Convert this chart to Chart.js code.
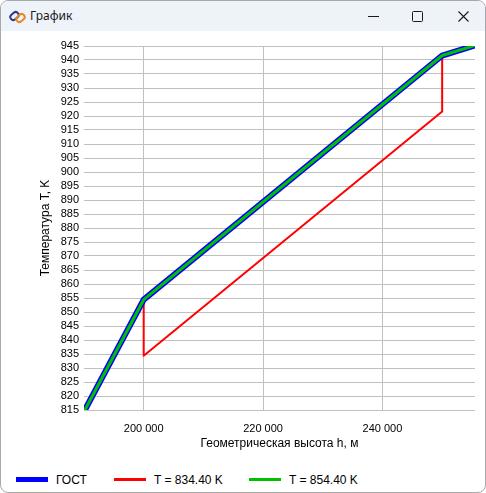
<!DOCTYPE html>
<html>
<head>
<meta charset="utf-8">
<script src="https://cdn.jsdelivr.net/npm/chart.js@4.4.1/dist/chart.umd.min.js"></script>
<style>
  html, body { margin: 0; padding: 0; width: 486px; height: 493px; overflow: hidden; background: #ffffff; }
  #win { position: absolute; left: 0; top: 0; width: 484px; height: 491px; border: 1px solid #a9a9a9; border-radius: 8px; overflow: hidden; background: #ffffff; }
  #titlebar { position: absolute; left: 0; top: 0; width: 484px; height: 30px; background: #eef2f9; font-family: "Noto Sans", "Open Sans", sans-serif; font-size: 12px; color: #1a1a1a; }
  #title { position: absolute; left: 29px; top: 6px; }
  #icon { position: absolute; left: 8px; top: 8px; }
  .ctl { position: absolute; top: 0; }
  #chartbox { position: absolute; left: -1px; top: 30px; width: 485px; height: 430px; }
  #legend { position: absolute; left: 0; top: 470px; width: 486px; height: 18px; font-family: "Liberation Sans", Arial, sans-serif; font-size: 12px; color: #000; }
  .lg-item { position: absolute; top: 0; height: 18px; }
  .lg-line { position: absolute; left: 0; width: 32px; }
  .lg-text { position: absolute; left: 40px; top: 2px; white-space: nowrap; }
</style>
</head>
<body>
<div id="win">
  <div id="titlebar">
    <svg id="icon" width="17" height="16" viewBox="0 0 17 16">
      <rect x="1" y="4" width="9" height="6" rx="3" ry="3" fill="none" stroke="#2b3a8c" stroke-width="2" transform="rotate(-40 5.5 7)"/>
      <rect x="7" y="6" width="9" height="6" rx="3" ry="3" fill="none" stroke="#e58a1f" stroke-width="2" transform="rotate(-40 11.5 9)"/>
    </svg>
    <div id="title">График</div>
    <svg class="ctl" style="left:366px" width="14" height="30"><line x1="1" y1="15.5" x2="12" y2="15.5" stroke="#1a1a1a" stroke-width="1"/></svg>
    <svg class="ctl" style="left:410px" width="14" height="30"><rect x="1.5" y="10.5" width="10" height="10" rx="1" fill="none" stroke="#1a1a1a" stroke-width="1"/></svg>
    <svg class="ctl" style="left:456px" width="14" height="30"><path d="M1.5 10.5 L11.5 20.5 M11.5 10.5 L1.5 20.5" stroke="#1a1a1a" stroke-width="1.1"/></svg>
  </div>
  <div id="chartbox"><canvas id="c"></canvas></div>
  <div id="legend"></div>
</div>
<script>
// ---- data ----
const gostH = [190000, 200000, 250000, 255500];
const gostT = [814.4, 854.4, 941.6, 945.2];
const t834H = [200000, 200000, 250000, 250000];
const t834T = [854.4, 834.4, 921.6, 941.6];
const t854H = [190000, 200000, 250000, 255500];
const t854T = [814.4, 854.4, 941.6, 945.2];
const xTickValues = [200000, 220000, 240000];
const yTickValues = [815, 820, 825, 830, 835, 840, 845, 850, 855, 860, 865, 870, 875, 880, 885, 890, 895, 900, 905, 910, 915, 920, 925, 930, 935, 940, 945];
const seriesLabels = ['ГОСТ', 'T = 834.40 K', 'T = 854.40 K'];
const xTitle = 'Геометрическая высота h, м';
const yTitle = 'Температура T, K';

const pts = (xs, ys) => xs.map((x, i) => ({x: x, y: ys[i]}));
const fmt = v => String(v).replace(/\B(?=(\d{3})+(?!\d))/g, ' ');

const styles = [
  {color: '#0000ff', width: 6, order: 2, lg: 5},
  {color: '#ff0000', width: 2, order: 3, lg: 3},
  {color: '#00c000', width: 3, order: 1, lg: 3}
];
const seriesData = [pts(gostH, gostT), pts(t834H, t834T), pts(t854H, t854T)];

const datasets = seriesLabels.map((lab, i) => ({
  label: lab,
  data: seriesData[i],
  borderColor: styles[i].color,
  backgroundColor: styles[i].color,
  borderWidth: styles[i].width,
  pointRadius: 0,
  tension: 0,
  fill: false,
  order: styles[i].order,
  borderJoinStyle: 'round',
  borderCapStyle: 'butt'
}));

const tickFont = {family: '"Liberation Sans", Arial, sans-serif', size: 11};
const titleFont = {family: '"Liberation Sans", Arial, sans-serif', size: 12};

new Chart(document.getElementById('c'), {
  type: 'line',
  data: {datasets: datasets},
  options: {
    responsive: true,
    maintainAspectRatio: false,
    animation: false,
    layout: {padding: {left: 0, top: 15, right: 10, bottom: 0}},
    plugins: {legend: {display: false}, tooltip: {enabled: false}},
    scales: {
      x: {
        type: 'linear',
        min: gostH[0],
        max: gostH[gostH.length - 1],
        afterBuildTicks: s => { s.ticks = xTickValues.map(v => ({value: v})); },
        afterFit: s => { s.height = 51; },
        grid: {color: '#c0c0c0', lineWidth: 1, drawTicks: false},
        border: {display: false},
        ticks: {font: tickFont, color: '#000', padding: 12, maxRotation: 0, callback: v => fmt(v)},
        title: {display: true, text: xTitle, font: titleFont, color: '#000', padding: {top: 0, bottom: 10}}
      },
      y: {
        type: 'linear',
        min: yTickValues[0],
        max: yTickValues[yTickValues.length - 1],
        afterBuildTicks: s => { s.ticks = yTickValues.map(v => ({value: v})); },
        afterFit: s => { s.width = 84; },
        grid: {color: '#c0c0c0', lineWidth: 1, drawTicks: false},
        border: {display: false},
        ticks: {font: tickFont, color: '#000', padding: 5, autoSkip: false, callback: v => String(v)},
        title: {display: true, text: yTitle, font: titleFont, color: '#000', padding: {top: 38, bottom: 0}}
      }
    }
  }
});

// HTML legend built from datasets
const lgPos = [15, 113, 248];
const legend = document.getElementById('legend');
datasets.forEach((d, i) => {
  const item = document.createElement('div');
  item.className = 'lg-item';
  item.style.left = lgPos[i] + 'px';
  const line = document.createElement('div');
  line.className = 'lg-line';
  line.style.background = d.borderColor;
  line.style.height = styles[i].lg + 'px';
  line.style.top = (8.5 - styles[i].lg / 2) + 'px';
  const txt = document.createElement('div');
  txt.className = 'lg-text';
  txt.textContent = d.label;
  item.appendChild(line);
  item.appendChild(txt);
  legend.appendChild(item);
});
</script>
</body>
</html>
